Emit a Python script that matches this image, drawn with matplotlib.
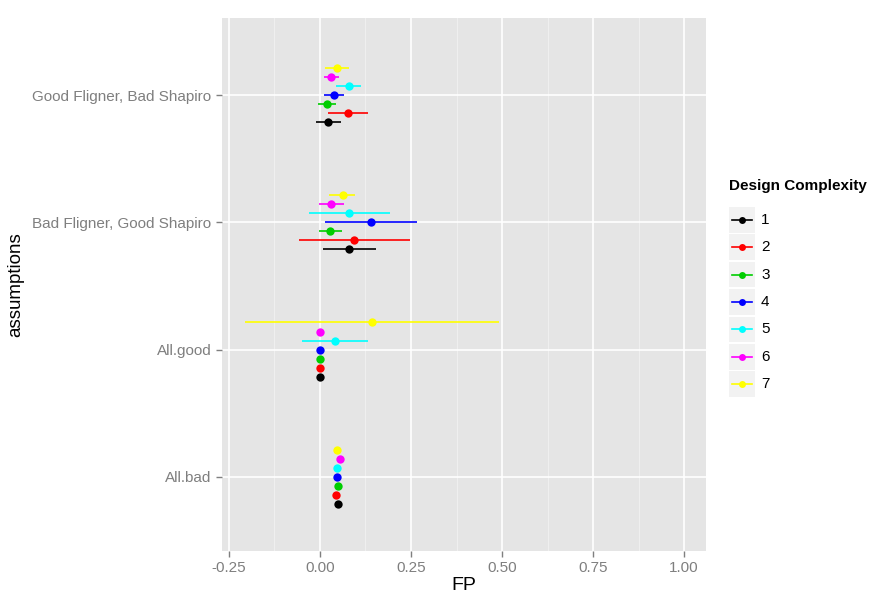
"""
plot.py
-------
Dodged point + error-bar chart of FP per assumption group and design complexity.
"""
import numpy as np

import matplotlib

matplotlib.use("Agg")
import matplotlib.pyplot as plt
from matplotlib.patches import Rectangle

plt.rcParams["font.family"] = ["Liberation Sans", "DejaVu Sans"]

# Data ------------------------------------------------------------------------
categories = ["All.bad", "All.good", "Bad Fligner, Good Shapiro", "Good Fligner, Bad Shapiro"]
levels = ["1", "2", "3", "4", "5", "6", "7"]
colors = ["#000000", "#FF0000", "#00CD00", "#0000FF", "#00FFFF", "#FF00FF", "#FFFF00"]

# one row per design complexity, columns follow `categories`
fp_mean = [
    [0.050, 0.000, 0.081, 0.022],
    [0.045, 0.000, 0.094, 0.076],
    [0.050, 0.000, 0.028, 0.020],
    [0.048, 0.000, 0.141, 0.038],
    [0.047, 0.040, 0.081, 0.079],
    [0.055, 0.000, 0.031, 0.031],
    [0.047, 0.143, 0.062, 0.047],
]
fp_lo = [
    [0.050, 0.000, 0.007, -0.012],
    [0.045, 0.000, -0.057, 0.022],
    [0.050, 0.000, -0.004, -0.005],
    [0.048, 0.000, 0.015, 0.012],
    [0.047, -0.049, -0.029, 0.044],
    [0.055, 0.000, -0.002, 0.010],
    [0.047, -0.207, 0.026, 0.014],
]
fp_hi = [
    [0.050, 0.000, 0.154, 0.057],
    [0.045, 0.000, 0.246, 0.131],
    [0.050, 0.000, 0.060, 0.044],
    [0.048, 0.000, 0.267, 0.065],
    [0.047, 0.132, 0.191, 0.113],
    [0.055, 0.000, 0.065, 0.052],
    [0.047, 0.491, 0.097, 0.080],
]
x_ticks = [-0.25, 0.0, 0.25, 0.5, 0.75, 1.0]

# -----------------------------------------------------------------------------
fig = plt.figure(figsize=(8.76, 5.98), dpi=100)
ax = fig.add_axes([222 / 876, 47 / 598, 484 / 876, 533 / 598])
ax.set_facecolor("#E5E5E5")

# grid (major white, minor lighter)
minor_x = [(a + b) / 2 for a, b in zip(x_ticks[:-1], x_ticks[1:])]
for v in minor_x:
    ax.axvline(v, color="#F2F2F2", lw=0.6, zorder=0)
for v in x_ticks:
    ax.axvline(v, color="white", lw=1.2, zorder=0)
ypos = np.arange(1, len(categories) + 1)
for y in ypos:
    ax.axhline(y, color="white", lw=1.2, zorder=0)

dodge = 0.071
for i, lvl in enumerate(levels):
    y = ypos + (i - 3) * dodge
    m = np.array(fp_mean[i])
    lo = np.array(fp_lo[i])
    hi = np.array(fp_hi[i])
    ax.hlines(y, lo, hi, color=colors[i], lw=1.2, zorder=2)
    ax.plot(m, y, "o", color=colors[i], ms=6, mec="none", zorder=3)

ax.set_xlim(-0.269, 1.06)
ax.set_ylim(0.417, 4.606)
ax.set_xticks(x_ticks)
ax.set_xticklabels(["-0.25", "0.00", "0.25", "0.50", "0.75", "1.00"])
ax.set_yticks(ypos)
ax.set_yticklabels(categories)
for s in ax.spines.values():
    s.set_visible(False)
ax.tick_params(colors="#7F7F7F", labelcolor="#7F7F7F", labelsize=11, length=4, width=1)
ax.set_xlabel("FP", fontsize=14, labelpad=1)
ax.set_ylabel("assumptions", fontsize=13.5, labelpad=6)

# legend ----------------------------------------------------------------------
lax = fig.add_axes([727 / 876, 200 / 598, 149 / 876, 192 / 598])
lax.set_xlim(0, 149)
lax.set_ylim(len(levels) + 0.5, 0.5)
lax.axis("off")
for i, lvl in enumerate(levels):
    yc = i + 1
    lax.add_patch(Rectangle((2, yc - 0.47), 26, 0.94, facecolor="#F2F2F2", edgecolor="none"))
    lax.plot([5, 25], [yc, yc], color=colors[i], lw=1.2)
    lax.plot([15], [yc], "o", color=colors[i], ms=5, mec="none")
    lax.text(34, yc, lvl, va="center", ha="left", fontsize=11)
fig.text(729 / 876, 1 - 186 / 598, "Design Complexity", fontsize=11,
         fontweight="bold", va="center", ha="left")

fig.savefig("out.png", dpi=100)
plt.close(fig)
